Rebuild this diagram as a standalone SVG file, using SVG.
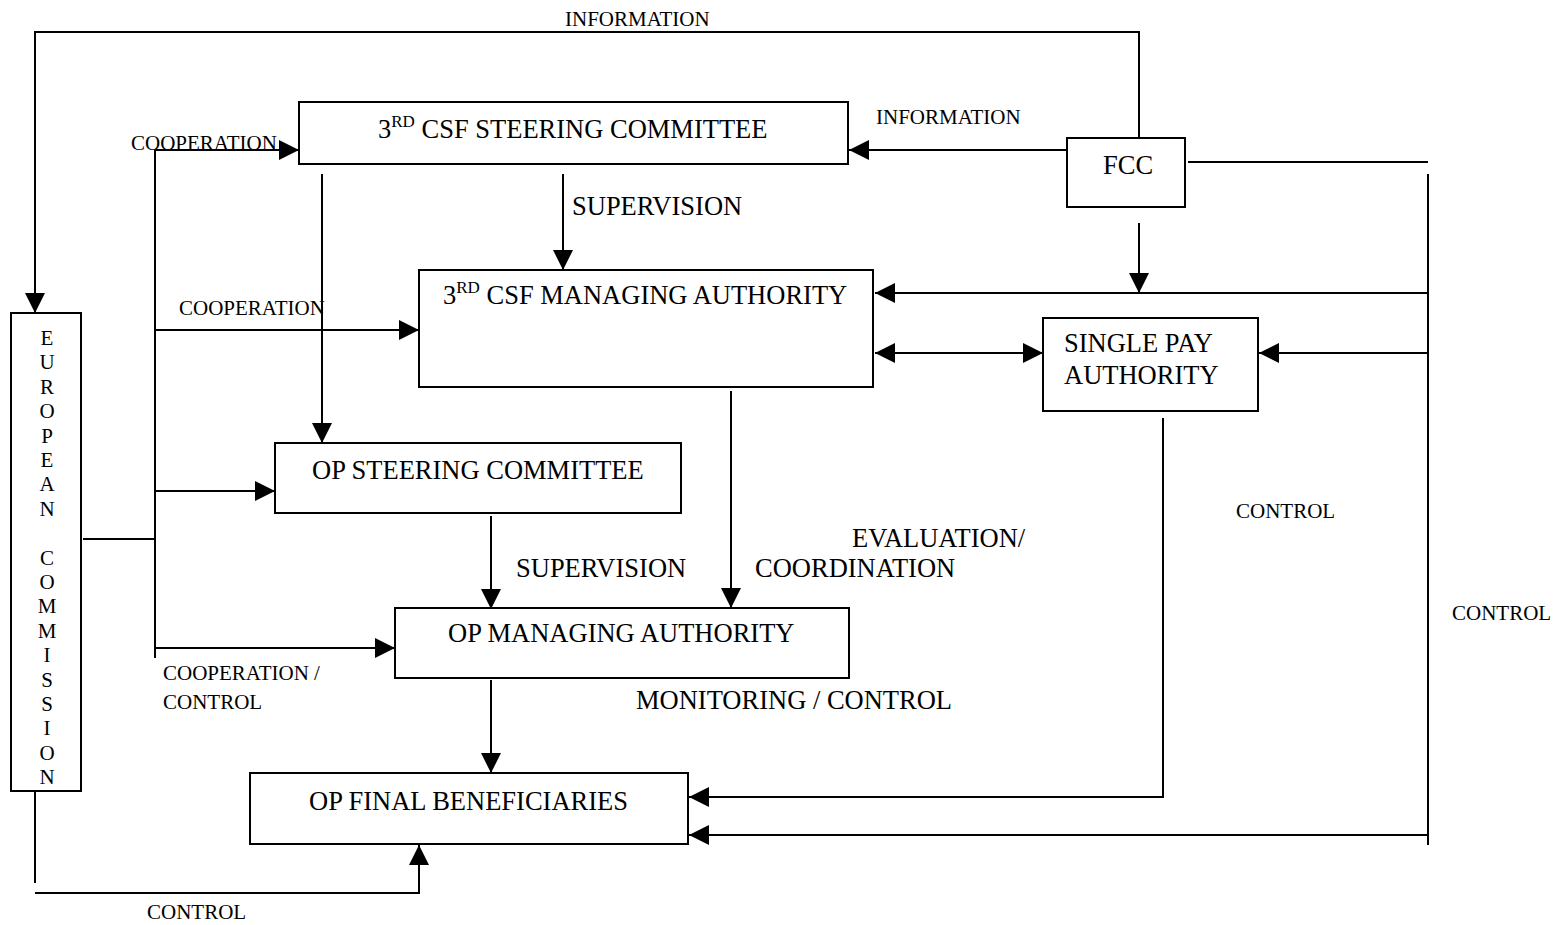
<svg xmlns="http://www.w3.org/2000/svg" width="1555" height="925" viewBox="0 0 1555 925">
<style>
  .box { fill: #fff; stroke: #000; stroke-width: 2; }
  .ln { fill: none; stroke: #000; stroke-width: 2; }
  .arr { marker-end: url(#ah); }
  .dbl { marker-start: url(#ah); marker-end: url(#ah); }
  text { font-family: "Liberation Serif", "Times New Roman", serif; fill: #000; }
  .big { font-size: 26.5px; }
  .sm { font-size: 21px; }
  .sup { font-size: 17px; }
</style>
<defs>
  <marker id="ah" markerUnits="userSpaceOnUse" markerWidth="20" markerHeight="20" refX="20" refY="10" orient="auto-start-reverse" viewBox="0 0 20 20">
    <path d="M0,0 L20,10 L0,20 z" fill="#000"/>
  </marker>
</defs>
<rect width="1555" height="925" fill="#fff"/>

<g id="connectors">
  <polyline class="ln arr" points="1139,138 1139,32 35,32 35,313"/>
  <line class="ln arr" x1="1067" y1="150" x2="849" y2="150"/>
  <line class="ln" x1="1188" y1="162" x2="1428" y2="162"/>
  <line class="ln" x1="1428" y1="174" x2="1428" y2="845"/>
  <line class="ln arr" x1="1139" y1="223" x2="1139" y2="293"/>
  <line class="ln arr" x1="1428" y1="293" x2="875" y2="293"/>
  <line class="ln arr" x1="1428" y1="353" x2="1259" y2="353"/>
  <line class="ln dbl" x1="875" y1="353" x2="1043" y2="353"/>
  <polyline class="ln arr" points="1163,418 1163,797 689,797"/>
  <line class="ln arr" x1="1428" y1="835" x2="689" y2="835"/>
  <line class="ln" x1="83" y1="539" x2="155" y2="539"/>
  <line class="ln" x1="155" y1="150" x2="155" y2="658"/>
  <line class="ln arr" x1="155" y1="150" x2="299" y2="150"/>
  <line class="ln arr" x1="155" y1="330" x2="419" y2="330"/>
  <line class="ln arr" x1="155" y1="491" x2="275" y2="491"/>
  <line class="ln arr" x1="155" y1="648" x2="395" y2="648"/>
  <line class="ln arr" x1="322" y1="174" x2="322" y2="443"/>
  <line class="ln arr" x1="563" y1="174" x2="563" y2="270"/>
  <line class="ln arr" x1="731" y1="391" x2="731" y2="608"/>
  <line class="ln arr" x1="491" y1="516" x2="491" y2="609"/>
  <line class="ln arr" x1="491" y1="680" x2="491" y2="773"/>
  <line class="ln" x1="35" y1="788" x2="35" y2="883"/>
  <polyline class="ln arr" points="35,893 419,893 419,845"/>
</g>

<g id="labels">
  <text class="sm" x="565" y="26">INFORMATION</text>
  <text class="sm" x="876" y="124">INFORMATION</text>
  <text class="sm" x="131" y="150">COOPERATION</text>
  <text class="sm" x="179" y="315">COOPERATION</text>
  <text class="sm" x="163" y="680">COOPERATION /</text>
  <text class="sm" x="163" y="709">CONTROL</text>
  <text class="big" x="572" y="215">SUPERVISION</text>
  <text class="big" x="516" y="577">SUPERVISION</text>
  <text class="big" x="852" y="547">EVALUATION/</text>
  <text class="big" x="755" y="577">COORDINATION</text>
  <text class="big" x="636" y="709">MONITORING / CONTROL</text>
  <text class="sm" x="1236" y="518">CONTROL</text>
  <text class="sm" x="1452" y="620">CONTROL</text>
  <text class="sm" x="147" y="919">CONTROL</text>
</g>

<g id="csf-steering">
  <rect class="box" x="299" y="102" width="549" height="62"/>
  <text class="big" x="378" y="138">3<tspan class="sup" dy="-11">RD</tspan><tspan dy="11"> CSF STEERING COMMITTEE</tspan></text>
</g>

<g id="fcc">
  <rect class="box" x="1067" y="138" width="118" height="69"/>
  <text class="big" x="1103" y="174">FCC</text>
</g>

<g id="csf-managing">
  <rect class="box" x="419" y="270" width="454" height="117"/>
  <text class="big" x="443" y="304">3<tspan class="sup" dy="-11">RD</tspan><tspan dy="11"> CSF MANAGING AUTHORITY</tspan></text>
</g>

<g id="single-pay">
  <rect class="box" x="1043" y="318" width="215" height="93"/>
  <text class="big" x="1064" y="352">SINGLE PAY</text>
  <text class="big" x="1064" y="384">AUTHORITY</text>
</g>

<g id="op-steering">
  <rect class="box" x="275" y="443" width="406" height="70"/>
  <text class="big" x="312" y="479">OP STEERING COMMITTEE</text>
</g>

<g id="op-managing">
  <rect class="box" x="395" y="608" width="454" height="70"/>
  <text class="big" x="448" y="642">OP MANAGING AUTHORITY</text>
</g>

<g id="op-final">
  <rect class="box" x="250" y="773" width="438" height="71"/>
  <text class="big" x="309" y="810">OP FINAL BENEFICIARIES</text>
</g>

<g id="european-commission">
  <rect class="box" x="11" y="313" width="70" height="478"/>
  <g class="sm" text-anchor="middle">
    <text class="sm" x="47" y="345">E</text>
    <text class="sm" x="47" y="369.4">U</text>
    <text class="sm" x="47" y="393.8">R</text>
    <text class="sm" x="47" y="418.2">O</text>
    <text class="sm" x="47" y="442.6">P</text>
    <text class="sm" x="47" y="467">E</text>
    <text class="sm" x="47" y="491.4">A</text>
    <text class="sm" x="47" y="515.8">N</text>
    <text class="sm" x="47" y="564.6">C</text>
    <text class="sm" x="47" y="589">O</text>
    <text class="sm" x="47" y="613.4">M</text>
    <text class="sm" x="47" y="637.8">M</text>
    <text class="sm" x="47" y="662.2">I</text>
    <text class="sm" x="47" y="686.6">S</text>
    <text class="sm" x="47" y="711">S</text>
    <text class="sm" x="47" y="735.4">I</text>
    <text class="sm" x="47" y="759.8">O</text>
    <text class="sm" x="47" y="784.2">N</text>
  </g>
</g>
</svg>
